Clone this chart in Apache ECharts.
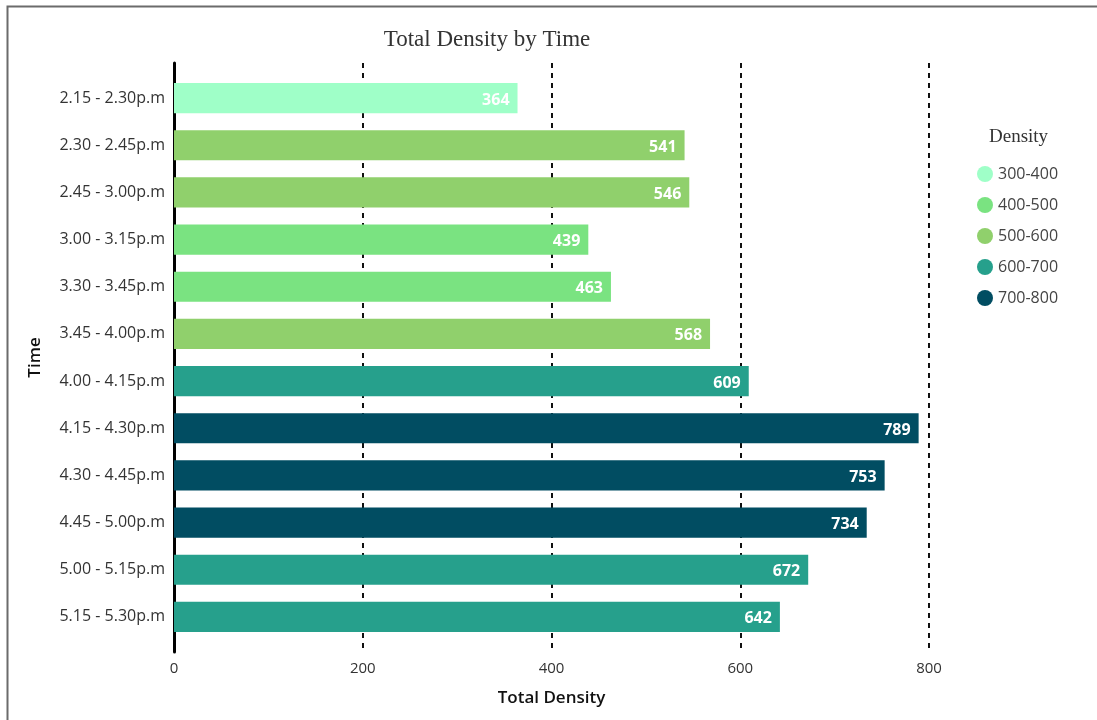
<!DOCTYPE html>
<html>
<head>
<meta charset="utf-8">
<style>
  html, body { margin: 0; padding: 0; background: #fff; }
  #chart { width: 1097px; height: 720px; }
</style>
<script src="https://cdn.jsdelivr.net/npm/echarts@6/dist/echarts.min.js"></script>
</head>
<body>
<div id="chart"></div>
<script>
// Time slots (top to bottom) and their total density
const categories = [
  '2.15 - 2.30p.m', '2.30 - 2.45p.m', '2.45 - 3.00p.m', '3.00 - 3.15p.m',
  '3.30 - 3.45p.m', '3.45 - 4.00p.m', '4.00 - 4.15p.m', '4.15 - 4.30p.m',
  '4.30 - 4.45p.m', '4.45 - 5.00p.m', '5.00 - 5.15p.m', '5.15 - 5.30p.m'
];
const values = [364, 541, 546, 439, 463, 568, 609, 789, 753, 734, 672, 642];

// Density bands used for colouring and the legend
const bandNames = ['300-400', '400-500', '500-600', '600-700', '700-800'];
const bandLow = [300, 400, 500, 600, 700];
const bandColors = ['#9fffc8', '#7ae381', '#90d06c', '#26a08c', '#014d62'];

const xTicks = [0, 200, 400, 600, 800];

function bandOf(v) {
  let idx = 0;
  bandLow.forEach((lo, i) => { if (v >= lo) idx = i; });
  return idx;
}

const uiFont = '"Open Sans", "Noto Sans", sans-serif';

const barSeries = bandNames.map((name, b) => ({
  name: name,
  type: 'bar',
  stack: 'total',
  xAxisIndex: 1,
  yAxisIndex: 1,
  barCategoryGap: '36%',
  itemStyle: { color: bandColors[b] },
  label: {
    show: true,
    position: 'insideRight',
    distance: 8,
    offset: [0, 2],
    color: '#ffffff',
    fontFamily: uiFont,
    fontWeight: 'bold',
    fontSize: 16
  },
  data: values.map(v => (bandOf(v) === b ? v : '-'))
}));

const chart = echarts.init(document.getElementById('chart'), null, { renderer: 'canvas' });

chart.setOption({
  animation: false,
  backgroundColor: '#ffffff',
  title: [{
    text: 'Total Density by Time',
    left: 482,
    textAlign: 'center',
    top: 23,
    textStyle: { fontFamily: '"Liberation Serif", serif', fontWeight: 'normal', fontSize: 23, color: '#333333' }
  }, {
    text: 'Density',
    left: 984,
    top: 123,
    textStyle: { fontFamily: '"Liberation Serif", serif', fontWeight: 'normal', fontSize: 19, color: '#333333' }
  }],
  legend: {
    orient: 'vertical',
    left: 972,
    top: 161,
    icon: 'circle',
    itemWidth: 16,
    itemHeight: 16,
    itemGap: 15,
    data: bandNames,
    textStyle: { fontFamily: uiFont, fontSize: 16, color: '#444444' }
  },
  graphic: [{
    type: 'rect',
    shape: { x: 7.5, y: 6.5, width: 1200, height: 800 },
    style: { fill: 'none', stroke: '#6b6b6b', lineWidth: 2 },
    silent: true
  }],
  grid: [
    { left: 174, right: 168, top: 63, height: 589 },
    { left: 174, right: 168, top: 74.5, height: 566 }
  ],
  xAxis: [{
    gridIndex: 0,
    type: 'value',
    min: xTicks[0],
    max: xTicks[xTicks.length - 1],
    interval: 200,
    name: 'Total Density',
    nameLocation: 'middle',
    nameGap: 38,
    nameTextStyle: { fontFamily: uiFont, fontSize: 17, fontWeight: 600, color: '#111111' },
    axisLine: { show: false },
    axisTick: { show: false },
    axisLabel: { fontFamily: uiFont, fontSize: 15, color: '#333333', margin: 9 },
    splitLine: { show: true, lineStyle: { type: [5, 5], color: '#111111', width: 2 } }
  }, {
    gridIndex: 1,
    type: 'value',
    min: xTicks[0],
    max: xTicks[xTicks.length - 1],
    show: false,
    splitLine: { show: false }
  }],
  yAxis: [{
    gridIndex: 0,
    type: 'value',
    min: 0,
    max: 1,
    axisLine: { show: true, onZero: false, lineStyle: { color: '#000000', width: 3 } },
    axisTick: { show: false },
    axisLabel: { show: false },
    splitLine: { show: false }
  }, {
    gridIndex: 1,
    type: 'category',
    inverse: true,
    data: categories,
    name: 'Time',
    nameLocation: 'middle',
    nameGap: 130,
    nameRotate: 90,
    nameTextStyle: { fontFamily: uiFont, fontSize: 17, fontWeight: 600, color: '#111111' },
    axisLine: { show: false },
    axisTick: { show: false },
    axisLabel: { fontFamily: uiFont, fontSize: 16, color: '#333333', margin: 9 }
  }],
  series: barSeries
});
</script>
</body>
</html>
